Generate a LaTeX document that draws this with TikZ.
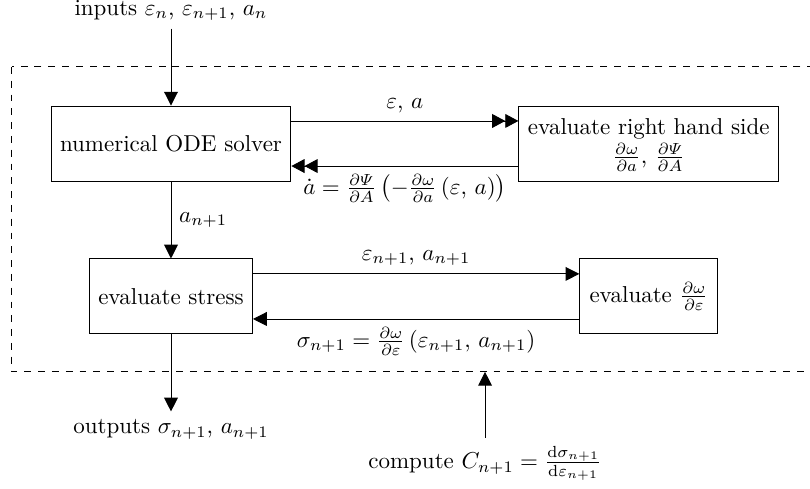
\documentclass[tikz,border=0pt]{standalone}
\usepackage{amsmath}
\usepackage{amssymb}
\usepackage{tikz}
\usetikzlibrary{arrows.meta}
\usetikzlibrary{positioning}
\tikzset{
    block/.style={
           rectangle,
           draw=black,
           minimum height=32.6pt,
           inner sep=2pt,
           text centered,
           },
     frameless/.style={
           %draw=black,
           inner sep=3.33pt,
           text centered,
           },
     flow/.style={-{Triangle[length=6pt,width=6pt]}},
     flowtwo/.style={-{Triangle[length=5.7pt,width=6pt] Triangle[length=5.7pt,width=6pt]}},
     outerframe/.style={dashed, draw=black},
}

\begin{document}
\begin{tikzpicture}[node distance=33.5pt and 98.7pt]
	\clip (0,0) rectangle (352.2pt,-212.6pt);

	% dashed frame (right side runs off the picture)
	\coordinate (framenw) at (5.2pt,-29.1pt);
	\coordinate (framese) at (365pt,-161.7pt);
	\draw[outerframe] (framenw) rectangle (framese);

	\node[block, minimum width=104.3pt] (ode) at (74.35pt,-62.39pt) {numerical ODE solver};

	\node[frameless, above=of ode] (inputs) {inputs $\varepsilon_n$, $\varepsilon_{n+1}$, $a_n$};

	\node[block, right=of ode, minimum width=113pt] (rhs) {
		\begin{tabular}{@{}c@{}}
		evaluate right hand side\\
		$\frac{\partial\omega}{\partial a}$, $\frac{\partial\varPsi}{\partial A}$
		\end{tabular}
	};

	\node[block, below=of ode, minimum width=70.9pt] (stress) {evaluate stress};
	\node[block, below=of rhs, minimum width=60pt] (deps) {evaluate $\frac{\partial\omega}{\partial\varepsilon}$};

	\node[frameless, below=of stress] (outputs) {outputs $\sigma_{n+1}$, $a_{n+1}$};
	\node[frameless, anchor=north] (compute) at (210.9pt,-190.4pt) {compute $C_{n+1} = \frac{\mathrm{d}\sigma_{n+1}}{\mathrm{d}\varepsilon_{n+1}}$};
	\coordinate (tangent) at (compute.north |- framese);

	\draw[flow] (inputs) -- (ode);
	\draw[flow] (ode) -- node[right] {$a_{n+1}$} (stress);
	\draw[flow] (stress) -- (outputs);
	\draw[flow] (compute) -- (tangent);

	\draw[flowtwo] ([yshift=9.8pt]ode.east) -- node[above] {$\varepsilon$, $a$} ([yshift=9.8pt]rhs.west);
	\draw[flowtwo] ([yshift=-9.8pt]rhs.west) -- node[below] {$\dot a = \frac{\partial\varPsi}{\partial A}\left(-\frac{\partial\omega}{\partial a}\left(\varepsilon,\, a\right)\right)$} ([yshift=-9.8pt]ode.east);

	\draw[flow] ([yshift=9.8pt]stress.east) -- node[above] {$\varepsilon_{n+1}$, $a_{n+1}$} ([yshift=9.8pt]deps.west);
	\draw[flow] ([yshift=-9.8pt]deps.west) -- node[below] {$\sigma_{n+1} = \frac{\partial\omega}{\partial\varepsilon}\left(\varepsilon_{n+1},\, a_{n+1}\right)$} ([yshift=-9.8pt]stress.east);

\end{tikzpicture}
\end{document}
